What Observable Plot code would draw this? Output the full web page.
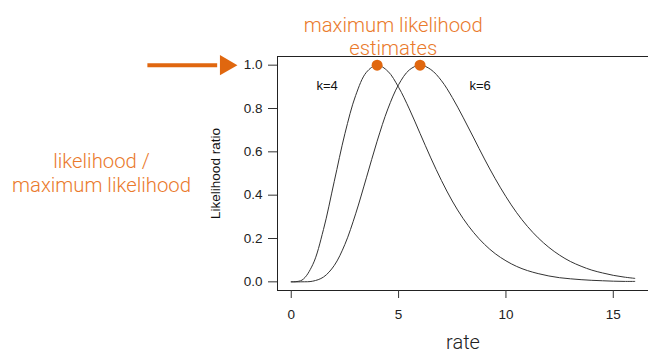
<!DOCTYPE html>
<html>
<head>
<meta charset="utf-8">
<script src="https://cdn.jsdelivr.net/npm/d3@7"></script>
<script src="https://cdn.jsdelivr.net/npm/@observablehq/plot@0.6"></script>
<style>
  html, body { margin: 0; padding: 0; background: #fff; }
  #chart svg { display: block; }
</style>
</head>
<body>
<div id="chart"></div>
<script>
// rate values (x)
const rates = [0, 0.5, 1, 1.5, 2, 2.5, 3, 3.5, 4, 4.5, 5, 5.5, 6, 6.5, 7, 7.5, 8, 8.5, 9, 9.5, 10,
  10.5, 11, 11.5, 12, 12.5, 13, 13.5, 14, 14.5, 15, 15.5, 16];
// likelihood ratio, k = 4
const ratioK4 = [0, 0.008, 0.079, 0.241, 0.462, 0.684, 0.860, 0.967, 1.0, 0.972, 0.898, 0.798, 0.685,
  0.572, 0.467, 0.373, 0.293, 0.227, 0.173, 0.130, 0.097, 0.071, 0.052, 0.038, 0.027, 0.019, 0.014,
  0.010, 0.007, 0.005, 0.003, 0.002, 0.002];
// likelihood ratio, k = 6
const ratioK6 = [0, 0.0001, 0.003, 0.022, 0.075, 0.173, 0.314, 0.480, 0.649, 0.798, 0.910, 0.978, 1.0,
  0.980, 0.928, 0.851, 0.760, 0.664, 0.567, 0.476, 0.393, 0.319, 0.256, 0.203, 0.159, 0.123, 0.094,
  0.072, 0.054, 0.041, 0.030, 0.022, 0.016];
const seriesNames = ["k=4", "k=6"];
const mleRates = [4, 6];
const mleValues = [1, 1];
const xTicks = [0, 5, 10, 15];
const yTicks = [0, 0.2, 0.4, 0.6, 0.8, 1.0];

const rows = [];
[ratioK4, ratioK6].forEach((vals, s) => {
  rates.forEach((r, i) => rows.push({series: seriesNames[s], rate: r, ratio: vals[i]}));
});
const mle = mleRates.map((r, i) => ({rate: r, ratio: mleValues[i]}));
const labels = [
  {text: seriesNames[0], rate: 1.67, ratio: 0.905},
  {text: seriesNames[1], rate: 8.8, ratio: 0.905}
];

const orange = "#e0670f";
const orangeText = "#ea7a2c";
const font = "'Liberation Sans', Arial, Helvetica, sans-serif";
const lightFont = "Roboto, 'Open Sans', Lato, sans-serif";

const chart = Plot.plot({
  width: 648,
  height: 359,
  marginLeft: 277,
  marginRight: 0,
  marginTop: 56,
  marginBottom: 69,
  style: {fontFamily: font, fontSize: "13px", color: "#222", background: "#fff"},
  x: {domain: [-0.64, 16.64], label: null},
  y: {domain: [-0.04, 1.04], label: null},
  marks: [
    Plot.frame({stroke: "#222", strokeWidth: 1}),
    Plot.axisY({ticks: yTicks, tickSize: 9, tickPadding: 6, tickFormat: d => d.toFixed(1), label: null, stroke: "#333", fontSize: 13.5, fill: "#222"}),
    Plot.axisX({ticks: xTicks, tickSize: 8, tickPadding: 11, tickFormat: d => String(d), label: null, stroke: "#333", fontSize: 13.5, fill: "#222"}),
    Plot.line(rows, {x: "rate", y: "ratio", z: "series", stroke: "#333", strokeWidth: 1, curve: "catmull-rom"}),
    Plot.dot(mle, {x: "rate", y: "ratio", r: 5.5, fill: orange, stroke: "none"}),
    Plot.text(labels, {x: "rate", y: "ratio", text: "text", fontSize: 13, fill: "#111"}),
    // axis titles
    Plot.text(["Likelihood ratio"], {frameAnchor: "left", textAnchor: "middle", dx: -62, rotate: -90, fontSize: 13.5, fill: "#111"}),
    Plot.text(["rate"], {frameAnchor: "bottom", textAnchor: "middle", dy: 58, fontSize: 20, fill: "#222", fontFamily: lightFont, fontWeight: 300}),
    // annotations
    Plot.text(["maximum likelihood"], {x: 4.75, frameAnchor: "top", dy: -39, fontSize: 20.3, fill: orangeText, fontFamily: lightFont, fontWeight: 300}),
    Plot.text(["estimates"], {x: 4.75, frameAnchor: "top", dy: -16, fontSize: 20.3, fill: orangeText, fontFamily: lightFont, fontWeight: 300}),
    Plot.text(["likelihood /"], {frameAnchor: "left", textAnchor: "middle", dx: -176, dy: -12, fontSize: 20.3, fill: orangeText, fontFamily: lightFont, fontWeight: 300}),
    Plot.text(["maximum likelihood"], {frameAnchor: "left", textAnchor: "middle", dx: -176, dy: 12, fontSize: 20.3, fill: orangeText, fontFamily: lightFont, fontWeight: 300}),
    Plot.link([1.0], {x1: -6.7, x2: -3.45, y1: d => d, y2: d => d, stroke: orange, strokeWidth: 4, clip: false}),
    Plot.dot([1.0], {x: -3.05, y: d => d, symbol: "triangle", rotate: 90, r: 7.5, fill: orange, stroke: "none", clip: false})
  ]
});
document.getElementById("chart").appendChild(chart);
</script>
</body>
</html>
